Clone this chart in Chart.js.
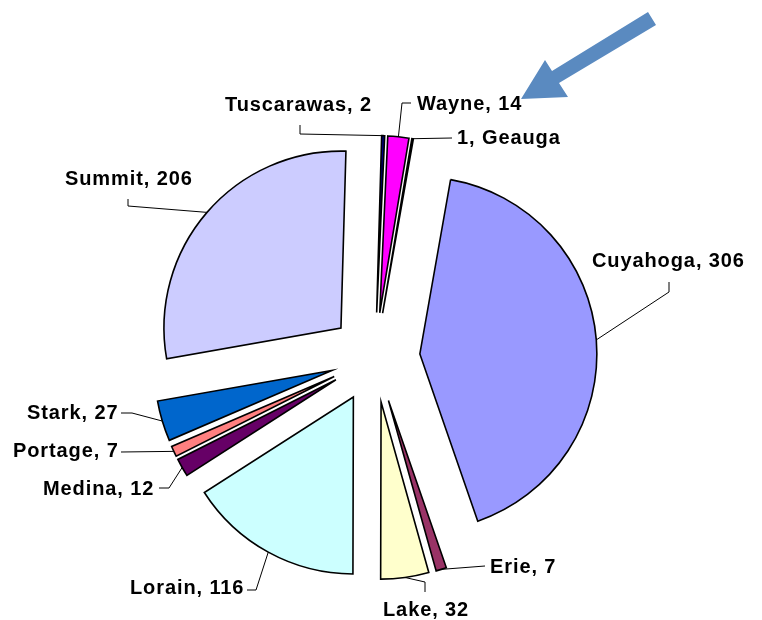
<!DOCTYPE html>
<html>
<head>
<meta charset="utf-8">
<script src="https://cdn.jsdelivr.net/npm/chart.js@4.4.0/dist/chart.umd.min.js"></script>
<style>
  html, body { margin: 0; padding: 0; background: #fff; }
  #c { display: block; }
</style>
</head>
<body>
<canvas id="c" width="762" height="620"></canvas>
<script>
// ---- data ----
const categories = ['Cuyahoga', 'Erie', 'Lake', 'Lorain', 'Medina', 'Portage', 'Stark', 'Summit', 'Tuscarawas', 'Wayne', 'Geauga'];
const values = [306, 7, 32, 116, 12, 7, 27, 206, 2, 14, 1];
const valueFirst = [false, false, false, false, false, false, false, false, false, false, true];

// ---- styles / layout ----
const colors = ['#9999FF', '#993366', '#FFFFCC', '#CCFFFF', '#660066', '#FF8080', '#0066CC', '#CCCCFF', '#000080', '#FF00FF', '#FFFFFF'];
const EXPLODE = 45;
const RADIUS = 177;
// label placement: left x, middle y, and leader elbow points (near the label)
const labelLayout = [
  { x: 592, y: 261, elbow: [[669, 282], [669, 292]] },   // Cuyahoga
  { x: 490, y: 567, elbow: [[485, 566]] },               // Erie
  { x: 383, y: 610, elbow: [[425, 592], [425, 582]] },   // Lake
  { x: 130, y: 588, elbow: [[247, 590], [256, 590]] },   // Lorain
  { x: 43,  y: 489, elbow: [[159, 488], [169, 488]] },   // Medina
  { x: 13,  y: 451, elbow: [[121, 452]] },               // Portage
  { x: 27,  y: 413, elbow: [[121, 413], [132, 413]] },   // Stark
  { x: 65,  y: 179, elbow: [[128, 199], [128, 206]] },   // Summit
  { x: 225, y: 105, elbow: [[300, 125], [300, 134]] },   // Tuscarawas
  { x: 417, y: 104, elbow: [[411, 103], [402, 103]] },   // Wayne
  { x: 457, y: 138, elbow: [[452, 138]] }                // Geauga
];

const explodePlugin = {
  id: 'explode',
  afterDatasetsUpdate(chart) {
    const meta = chart.getDatasetMeta(0);
    meta.data.forEach(arc => {
      const mid = (arc.startAngle + arc.endAngle) / 2;
      arc.x = arc.x + Math.cos(mid) * EXPLODE;
      arc.y = arc.y + Math.sin(mid) * EXPLODE;
    });
  }
};

const labelPlugin = {
  id: 'labels',
  afterDatasetsDraw(chart) {
    const ctx = chart.ctx;
    const meta = chart.getDatasetMeta(0);
    ctx.save();
    ctx.strokeStyle = '#000';
    ctx.lineWidth = 1;
    meta.data.forEach((arc, i) => {
      const L = labelLayout[i];
      const mid = (arc.startAngle + arc.endAngle) / 2;
      const ax = arc.x + Math.cos(mid) * arc.outerRadius;
      const ay = arc.y + Math.sin(mid) * arc.outerRadius;
      ctx.beginPath();
      ctx.moveTo(L.elbow[0][0], L.elbow[0][1]);
      for (let k = 1; k < L.elbow.length; k++) ctx.lineTo(L.elbow[k][0], L.elbow[k][1]);
      ctx.lineTo(ax, ay);
      ctx.stroke();
    });
    ctx.fillStyle = '#000';
    ctx.font = 'bold 20px "Liberation Sans", Arial, sans-serif';
    try { ctx.letterSpacing = '0.9px'; } catch (e) {}
    ctx.textAlign = 'left';
    ctx.textBaseline = 'middle';
    categories.forEach((name, i) => {
      const L = labelLayout[i];
      const txt = valueFirst[i] ? values[i] + ', ' + name : name + ', ' + values[i];
      ctx.fillText(txt, L.x, L.y);
    });
    ctx.restore();

    // decorative arrow pointing at the Wayne label
    ctx.save();
    ctx.fillStyle = '#5A8AC0';
    ctx.beginPath();
    ctx.moveTo(648, 12);
    ctx.lineTo(552, 71);
    ctx.lineTo(545, 60);
    ctx.lineTo(521, 99);
    ctx.lineTo(568, 97);
    ctx.lineTo(559, 83);
    ctx.lineTo(656, 25);
    ctx.closePath();
    ctx.fill();
    ctx.restore();
  }
};

new Chart(document.getElementById('c'), {
  type: 'pie',
  data: {
    labels: categories,
    datasets: [{
      data: values,
      backgroundColor: colors,
      borderColor: '#000',
      borderWidth: 1.6,
      borderJoinStyle: 'miter'
    }]
  },
  options: {
    responsive: false,
    animation: false,
    devicePixelRatio: 1,
    rotation: 10,
    radius: RADIUS,
    layout: { padding: { left: 0, right: 12, top: 95, bottom: 0 } },
    plugins: {
      legend: { display: false },
      tooltip: { enabled: false },
      title: { display: false }
    }
  },
  plugins: [explodePlugin, labelPlugin]
});
</script>
</body>
</html>
